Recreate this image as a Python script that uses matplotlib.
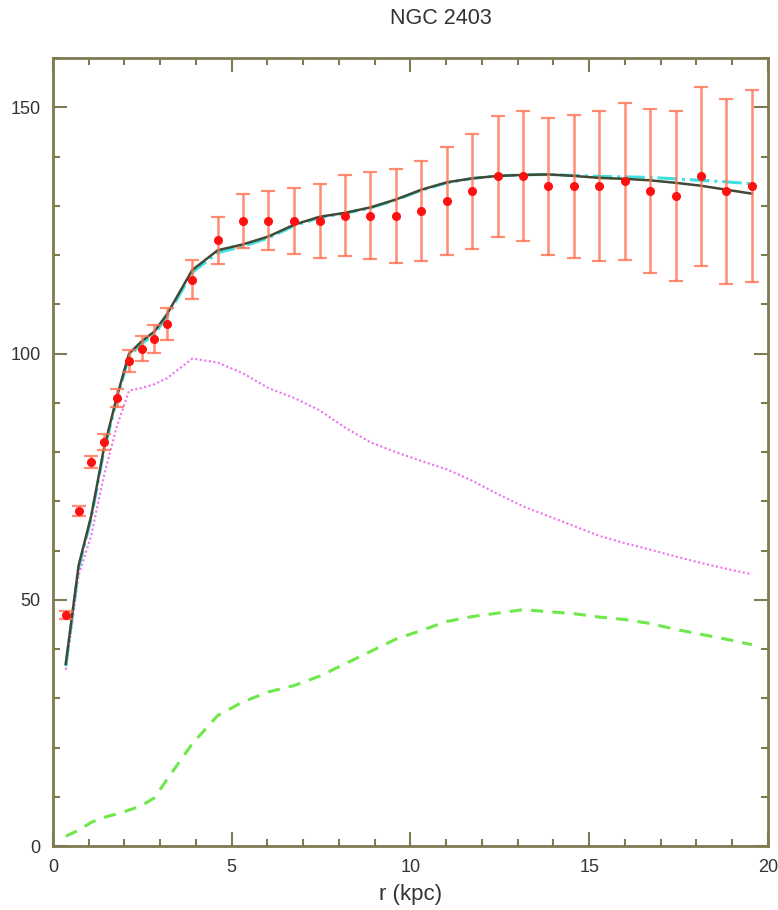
import matplotlib
matplotlib.use("Agg")
import matplotlib.pyplot as plt
from matplotlib.ticker import MultipleLocator

plt.rcParams['font.family'] = ['Liberation Sans', 'DejaVu Sans']

# radii of the measurements (kpc)
r = [0.36, 0.72, 1.07, 1.42, 1.78, 2.13, 2.48, 2.84, 3.19, 3.90, 4.61, 5.32,
     6.03, 6.75, 7.46, 8.17, 8.88, 9.59, 10.31, 11.02, 11.73, 12.44, 13.15,
     13.86, 14.57, 15.28, 16.00, 16.71, 17.42, 18.13, 18.84, 19.55]

# observed rotation velocity and its error (km/s)
v_obs = [47, 68, 78, 82, 91, 98.5, 101, 103, 106, 115, 123, 127,
         127, 127, 127, 128, 128, 128, 129, 131, 133, 136, 136,
         134, 134, 134, 135, 133, 132, 136, 133, 134]
v_err = [0.8, 1.0, 1.2, 1.6, 1.8, 2.2, 2.5, 2.8, 3.3, 4.0, 4.7, 5.5,
         6.0, 6.7, 7.5, 8.2, 8.8, 9.5, 10.2, 11.0, 11.7, 12.3, 13.2,
         13.9, 14.5, 15.2, 16.0, 16.6, 17.3, 18.2, 18.8, 19.5]

# model curves
v_total = [37, 57, 67, 80.5, 91, 100, 102.5, 104.5, 108, 117, 121, 122.2,
           123.8, 126.2, 127.8, 128.6, 129.7, 131.3, 133.3, 134.8, 135.6, 136.1, 136.3,
           136.4, 136.1, 135.7, 135.5, 135.2, 134.7, 134.1, 133.3, 132.5]
v_fit2 = [36.5, 56.5, 66.5, 80, 90.5, 99.5, 102, 104, 107.5, 116.5, 120.5, 121.8,
          123.5, 126, 127.6, 128.5, 129.6, 131.2, 133.2, 134.7, 135.6, 136.1, 136.3,
          136.4, 136.2, 136.0, 135.9, 135.8, 135.5, 135.2, 134.9, 134.5]
v_disk = [35.8, 55, 63, 75, 85, 92.5, 93, 93.8, 95, 99, 98.2, 96,
          93, 91, 88.5, 85, 82, 80, 78.2, 76.5, 74.2, 71.5, 69,
          67, 65, 63, 61.5, 60.2, 58.8, 57.5, 56.3, 55.2]
v_gas = [2.0, 3.2, 4.8, 5.8, 6.5, 7.3, 8.2, 9.8, 13.5, 20.8, 26.5, 29.3,
         31.3, 32.6, 34.5, 37, 39.5, 42, 43.8, 45.6, 46.6, 47.3, 48,
         47.6, 47.2, 46.5, 46, 45.2, 44, 43, 42, 40.9]

axcol = '#7e7a52'

fig = plt.figure(figsize=(7.78, 9.10), dpi=100)
ax = fig.add_axes([0.068, 0.0703, 0.919, 0.8657])

ax.plot(r, v_gas, color='#6ee84a', lw=2.2, dashes=(4, 3))
ax.plot(r, v_disk, color='#f070f0', lw=1.5, linestyle=(0, (1, 1.2)))
ax.plot(r, v_fit2, color='#40e0e0', lw=2.2, linestyle='-.')
ax.plot(r, v_total, color='#404a36', lw=1.8)
ax.errorbar(r, v_obs, yerr=v_err, fmt='none', ecolor='#ff7050', alpha=0.8,
            elinewidth=1.8, capsize=5, capthick=1.6)
ax.plot(r, v_obs, 'o', color='#ff1010', markersize=5.5)

ax.set_xlim(0, 20)
ax.set_ylim(0, 160)
ax.xaxis.set_major_locator(MultipleLocator(5))
ax.xaxis.set_minor_locator(MultipleLocator(1))
ax.yaxis.set_major_locator(MultipleLocator(50))
ax.yaxis.set_minor_locator(MultipleLocator(10))
ax.tick_params(which='both', direction='in', top=True, right=True,
               color=axcol, width=1.5, labelsize=13, labelcolor='#333333')
ax.tick_params(which='major', length=10)
ax.tick_params(which='minor', length=5)
ax.tick_params(axis='y', pad=9)
ax.tick_params(axis='x', pad=9)
for s in ax.spines.values():
    s.set_color(axcol)
    s.set_linewidth(2)

ax.set_xlabel('r (kpc)', fontsize=16, color='#333333', labelpad=6)
fig.text(441 / 778, 1 - 18 / 910, 'NGC 2403', ha='center', va='center',
         fontsize=15.5, color='#333333')

fig.savefig('out.png', dpi=100)
